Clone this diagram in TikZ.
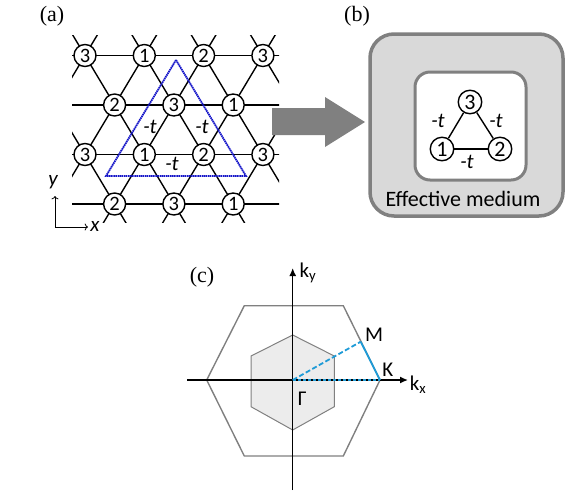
\documentclass[tikz,border=0pt]{standalone}
\usepackage{fontspec}
\setmainfont{Liberation Serif}
\setsansfont{Carlito}
\usetikzlibrary{arrows.meta}
\definecolor{boxgray}{RGB}{128,128,128}
\definecolor{boxfill}{RGB}{217,217,217}
\definecolor{hexfill}{RGB}{236,236,236}
\definecolor{bzblue}{RGB}{30,155,215}
\definecolor{triblue}{RGB}{20,20,200}
\tikzset{
  site/.style={circle, draw, fill=white, line width=1.4pt, inner sep=0pt, minimum size=22pt, font=\sffamily\fontsize{20.5}{20.5}\selectfont},
  hop/.style={font=\sffamily\itshape\fontsize{21}{21}\selectfont},
  lab/.style={font=\sffamily\fontsize{21}{21}\selectfont},
  panel/.style={font=\fontsize{22}{22}\selectfont},
  latline/.style={line width=1.4pt},
}
\begin{document}
\begin{tikzpicture}[x=1pt, y=-1pt]
    \useasboundingbox (0,0) rectangle (567,491);

    \node[panel] (pa) at (52,16) {(a)};
    \node[panel] (pb) at (357,16) {(b)};
    \node[panel] (pc) at (202,277) {(c)};

    \begin{scope}
        \clip (72,35) rectangle (279,222);
        \foreach \r in {0,...,3}
            \draw[latline] (60,55.5+49.5*\r) -- (290,55.5+49.5*\r);
        \foreach \k in {-3,...,3}
            \draw[latline] (85+59.3*\k-29.65,55.5-49.5) -- ++(29.65*5,49.5*5);
        \foreach \k in {0,...,6}
            \draw[latline] (85+59.3*\k+29.65,55.5-49.5) -- ++(-29.65*5,49.5*5);
    \end{scope}

    \foreach \lab [count=\i from 0] in {3,1,2,3}
        \node[site] (a0\i) at (85+59.3*\i,55.5) {\lab};
    \foreach \lab [count=\i from 0] in {2,3,1}
        \node[site] (a1\i) at (114.6+59.3*\i,105) {\lab};
    \foreach \lab [count=\i from 0] in {3,1,2,3}
        \node[site] (a2\i) at (85+59.3*\i,154.5) {\lab};
    \foreach \lab [count=\i from 0] in {2,3,1}
        \node[site] (a3\i) at (114.6+59.3*\i,204) {\lab};

    \draw[triblue, line width=1.8pt, dash pattern=on 1.5pt off 0.6pt] (176,60) -- (106,176) -- (246,176) -- cycle;
    \node[hop] (ha1) at (150,127) {-t};
    \node[hop] (ha2) at (202,127) {-t};
    \node[hop] (ha3) at (172,164) {-t};

    \coordinate (ao) at (55,227);
    \coordinate (ay) at (55,196);
    \coordinate (ax) at (88,227);
    \draw[->, line width=0.8pt] (ao) -- (ay);
    \draw[->, line width=0.8pt] (ao) -- (ax);
    \node[hop] (ylab) at (53,182) {y};
    \node[hop] (xlab) at (95,226) {x};

    \fill[boxgray] (272,108) -- (325,108) -- (325,97) -- (365,122) -- (325,147) -- (325,135) -- (272,135) -- cycle;

    \draw[boxgray, fill=boxfill, line width=3.5pt, rounded corners=24pt] (370,34) rectangle (563,216);
    \draw[boxgray, fill=white, line width=3pt, rounded corners=15pt] (415,72) rectangle (526,180);
    \node[site, minimum size=23.5pt, font=\sffamily\fontsize{22}{22}\selectfont] (b1) at (442,149) {1};
    \node[site, minimum size=23.5pt, font=\sffamily\fontsize{22}{22}\selectfont] (b2) at (500,149) {2};
    \node[site, minimum size=23.5pt, font=\sffamily\fontsize{22}{22}\selectfont] (b3) at (470,102) {3};
    \draw[latline] (b1) -- (b2);
    \draw[latline] (b2) -- (b3);
    \draw[latline] (b3) -- (b1);
    \node[hop] (hb1) at (438,121) {-t};
    \node[hop] (hb2) at (496,121) {-t};
    \node[hop] (hb3) at (467,162) {-t};
    \node[lab, font=\sffamily\fontsize{22}{22}\selectfont] (em) at (463,199) {Effective medium};

    \coordinate (G) at (292.7,380);
    \coordinate (M) at (360.7,341.7);
    \coordinate (K) at (380,380);
    \draw[boxgray, fill=hexfill, line width=1pt] (292.7,335) -- (334.3,356) -- (334.3,406.7) -- (292.7,430) -- (251,406.7) -- (251,356) -- cycle;
    \draw[boxgray, line width=1.4pt] (206.7,380) -- (244.3,305.7) -- (343.3,305.7) -- (K) -- (343.3,456) -- (244.3,456) -- cycle;
    \coordinate (kxs) at (187,380);
    \coordinate (kxe) at (408,380);
    \coordinate (kys) at (292.7,490);
    \coordinate (kye) at (292.7,268);
    \draw[-{Latex[length=8pt,width=7pt]}, line width=1.4pt] (kxs) -- (kxe);
    \draw[-{Latex[length=8pt,width=7pt]}, line width=1.4pt] (kys) -- (kye);
    \draw[bzblue, line width=1.8pt, dash pattern=on 5pt off 2.5pt] (G) -- (M);
    \draw[bzblue, line width=1.8pt] (M) -- (K);
    \draw[bzblue, line width=1.8pt, dash pattern=on 3pt off 2pt] (G) -- (K);
    \node[lab] (gl) at (302.3,398.3) {Γ};
    \node[lab] (ml) at (374,335) {M};
    \node[lab] (kl) at (387.7,370) {K};
    \node[lab] (kxl) at (418,385) {k\textsubscript{x}};
    \node[lab] (kyl) at (308,273) {k\textsubscript{y}};
\end{tikzpicture}
\end{document}
